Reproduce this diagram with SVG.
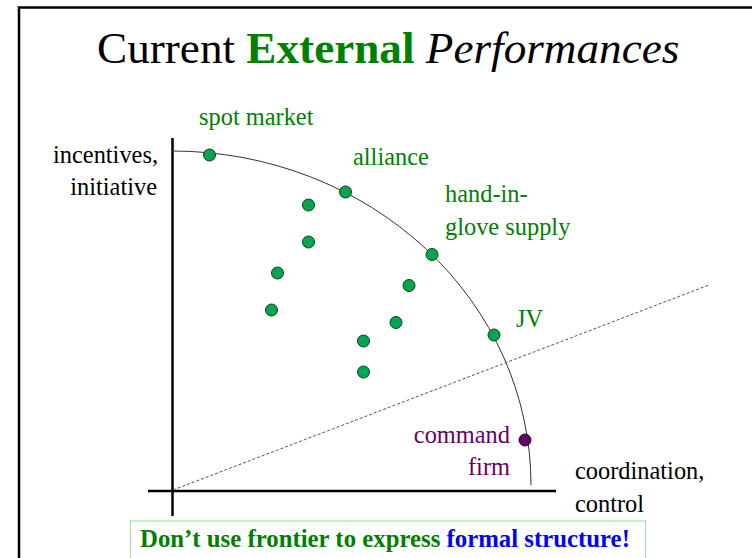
<svg xmlns="http://www.w3.org/2000/svg" width="752" height="558" viewBox="0 0 752 558">
<style>
text{font-family:"Liberation Serif","Times New Roman",serif;}
.lbl{font-size:24.4px;fill:#000;}
.g{font-size:24.4px;fill:#008000;}
.p{font-size:24.4px;fill:#660066;}
.dot{fill:#00a651;stroke:#1a3a1a;stroke-width:1;}
.cmd{fill:#660066;stroke:#2a0a2a;stroke-width:1;}
.axis{stroke:#000;stroke-width:2.5;fill:none;}
</style>
<rect x="0" y="0" width="752" height="558" fill="#fff"/>
<g id="frame">
<path d="M19,558 V7.5 H752" fill="none" stroke="#000" stroke-width="2.5"/>
</g>
<g id="title">
<text x="97" y="63" font-size="45.2" fill="#000">Current <tspan font-weight="bold" fill="#008000">External</tspan> <tspan font-style="italic">Performances</tspan></text>
</g>
<g id="connectors">
<line class="axis" x1="172.5" y1="138" x2="172.5" y2="516"/>
<line class="axis" x1="148" y1="491" x2="556" y2="491"/>
<path d="M172,151 A359,334 0 0 1 531,485" fill="none" stroke="#333" stroke-width="1"/>
<line x1="173" y1="490" x2="709" y2="285" stroke="#555" stroke-width="1" stroke-dasharray="3,2"/>
</g>
<g id="axis-y-label">
<text class="lbl" x="158" y="163" text-anchor="end">incentives,</text>
<text class="lbl" x="157" y="195" text-anchor="end">initiative</text>
</g>
<g id="axis-x-label">
<text class="lbl" x="575" y="479">coordination,</text>
<text class="lbl" x="575" y="512">control</text>
</g>
<g id="spot-market">
<circle class="dot" cx="209.5" cy="155" r="6"/>
<text class="g" x="199" y="125">spot market</text>
</g>
<g id="alliance">
<circle class="dot" cx="345.5" cy="192" r="6"/>
<text class="g" x="353" y="165">alliance</text>
</g>
<g id="hand-in-glove">
<circle class="dot" cx="432" cy="254.5" r="6"/>
<text class="g" x="445" y="202">hand-in-</text>
<text class="g" x="445" y="235">glove supply</text>
</g>
<g id="jv">
<circle class="dot" cx="494" cy="335" r="6"/>
<text class="g" x="516" y="327">JV</text>
</g>
<g id="command-firm">
<circle class="cmd" cx="525" cy="440" r="6"/>
<text class="p" x="510" y="443" text-anchor="end">command</text>
<text class="p" x="510" y="475" text-anchor="end">firm</text>
</g>
<g id="interior-points">
<circle class="dot" cx="308.5" cy="205" r="6"/>
<circle class="dot" cx="308.5" cy="242" r="6"/>
<circle class="dot" cx="277.5" cy="273" r="6"/>
<circle class="dot" cx="271.5" cy="310" r="6"/>
<circle class="dot" cx="409" cy="285.5" r="6"/>
<circle class="dot" cx="396" cy="322.5" r="6"/>
<circle class="dot" cx="363.5" cy="341" r="6"/>
<circle class="dot" cx="363.5" cy="372" r="6"/>
</g>
<g id="note">
<rect x="130.5" y="521" width="515" height="45" fill="#fff" stroke="#a8e0b0" stroke-width="1.2"/>
<text x="140" y="547" font-size="24.8" font-weight="bold" fill="#008000">Don’t use frontier to express <tspan fill="#0000ff">formal structure!</tspan></text>
</g>
</svg>
